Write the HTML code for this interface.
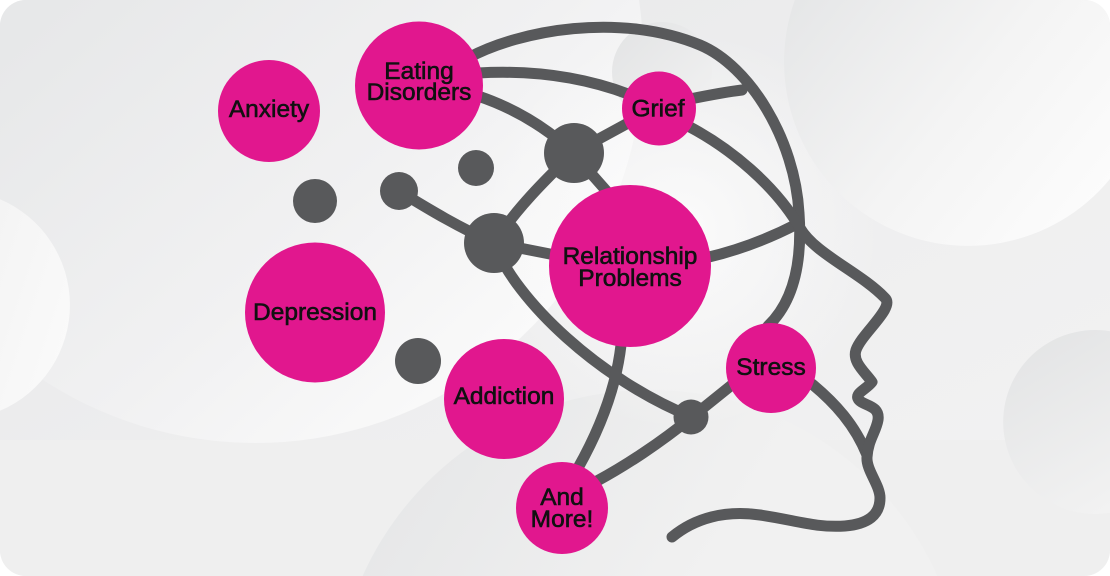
<!DOCTYPE html>
<html><head><meta charset="utf-8"><style>
html,body{margin:0;padding:0;background:#fff;width:1110px;height:576px;overflow:hidden;}
svg{display:block;}
text{font-family:"Liberation Sans",Arial,sans-serif;font-weight:normal;font-size:24.5px;fill:#111;stroke:#111;stroke-width:0.6px;text-anchor:middle;}
</style></head><body>
<svg width="1110" height="576" viewBox="0 0 1110 576" xmlns="http://www.w3.org/2000/svg">
<defs>
<clipPath id="frame"><rect x="0" y="0" width="1110" height="576" rx="26" ry="26"/></clipPath>
<linearGradient id="gBase" x1="0" y1="0" x2="1" y2="1">
<stop offset="0" stop-color="#e6e7e8"/><stop offset="0.5" stop-color="#eeeeef"/><stop offset="1" stop-color="#f3f3f3"/>
</linearGradient>
<linearGradient id="gBig" gradientUnits="userSpaceOnUse" x1="40" y1="20" x2="420" y2="440">
<stop offset="0" stop-color="#e7e8e9"/><stop offset="0.6" stop-color="#f1f1f2"/><stop offset="1" stop-color="#fafafa"/>
</linearGradient>
<linearGradient id="gTR" gradientUnits="userSpaceOnUse" x1="800" y1="0" x2="1100" y2="240">
<stop offset="0" stop-color="#e6e7e8"/><stop offset="0.5" stop-color="#f4f4f4"/><stop offset="1" stop-color="#fdfdfd"/>
</linearGradient>
<linearGradient id="gSmall" x1="0" y1="0" x2="1" y2="1">
<stop offset="0" stop-color="#e2e3e4"/><stop offset="1" stop-color="#f2f2f2"/>
</linearGradient>
<linearGradient id="gBR" gradientUnits="userSpaceOnUse" x1="1003" y1="330" x2="1110" y2="512">
<stop offset="0" stop-color="#e2e3e4"/><stop offset="1" stop-color="#f2f2f2"/>
</linearGradient>
<linearGradient id="gBot" gradientUnits="userSpaceOnUse" x1="400" y1="390" x2="700" y2="576">
<stop offset="0" stop-color="#e5e6e7"/><stop offset="1" stop-color="#f1f1f1"/>
</linearGradient>
<linearGradient id="gLeft" x1="0" y1="0" x2="1" y2="1">
<stop offset="0" stop-color="#f4f4f4"/><stop offset="1" stop-color="#fbfbfb"/>
</linearGradient>
<radialGradient id="gGlow" cx="0.5" cy="0.5" r="0.5">
<stop offset="0" stop-color="#fbfbfb"/><stop offset="1" stop-color="#fbfbfb" stop-opacity="0"/>
</radialGradient>
</defs>

<g clip-path="url(#frame)">
<rect x="0" y="0" width="1110" height="576" fill="url(#gBase)"/>
<rect x="0" y="440" width="1110" height="136" fill="#efefef"/>
<path d="M362.6 576 A315 315 0 0 1 937.4 576 Z" fill="url(#gBot)"/>
<path d="M0 0 L639.1 0 A388 388 0 0 1 0 347.4 Z" fill="url(#gBig)"/>
<circle cx="680" cy="230" r="200" fill="url(#gGlow)"/>
<path d="M0 199.2 A115 115 0 0 1 0 410.8 Z" fill="url(#gLeft)"/>
<circle cx="662" cy="72" r="50" fill="url(#gSmall)"/>
<path d="M794.8 0 L1110 0 L1110 179 A184 184 0 0 1 794.8 0 Z" fill="url(#gTR)"/>
<path d="M1110 331.2 A92 92 0 1 0 1110 512.8 Z" fill="url(#gBR)"/>
</g>

<g fill="none" stroke="#58595b" stroke-width="11" stroke-linecap="round" stroke-linejoin="round">
<path d="M468 58 C520 30,620 12,700 45 C750 66,795 140,799 213 C803 270,790 305,768 326"/>
<path d="M478 73 C530 70,580 76,628 94"/>
<path d="M690 99 C710 95,725 92,742 90"/>
<path d="M478 96 C505 105,535 120,565 145"/>
<path d="M573 153 L630 122"/>
<path d="M573 153 L610 195"/>
<path d="M573 153 C545 180,515 210,494 243"/>
<path d="M399 191 C430 210,460 228,494 243"/>
<path d="M494 243 L555 255"/>
<path d="M494 243 C515 300,600 380,692 417 L738 380"/>
<path d="M705 258 C740 250,770 238,797 224"/>
<path d="M621 345 C617 380,605 420,578 468"/>
<path d="M597 481 C625 466,660 443,692 417"/>
<path d="M812 384 C835 403,855 425,867 455"/>
<path d="M688 126 C730 148,775 185,800 228 C815 254,860 272,885 298 C895 308,862 333,856 350 C852 362,865 372,872 382 C866 390,852 394,860 401 C866 406,880 406,878 420 C876 432,868 440,867 457 C866 470,880 485,880 498 C880 515,868 524,845 526 C815 528,795 520,760 515 C725 510,695 518,672 537"/>
</g>

<g fill="#58595b">
<circle cx="315" cy="201" r="22"/>
<circle cx="399" cy="191" r="19"/>
<circle cx="476" cy="168" r="18"/>
<circle cx="574" cy="153" r="30"/>
<circle cx="494" cy="243" r="30"/>
<circle cx="418" cy="361" r="23"/>
<circle cx="691" cy="417" r="17.5"/>
</g>

<g fill="#e1178e">
<circle cx="269" cy="111" r="51"/>
<circle cx="419" cy="85.5" r="64"/>
<circle cx="659" cy="108.5" r="37"/>
<circle cx="630" cy="266" r="81"/>
<circle cx="315" cy="312.5" r="70"/>
<circle cx="504" cy="399" r="60"/>
<circle cx="562" cy="508" r="46"/>
<circle cx="771" cy="368" r="45"/>
</g>

<text x="269" y="117">Anxiety</text>
<text x="419" y="79">Eating</text>
<text x="419" y="100">Disorders</text>
<text x="658" y="116.5">Grief</text>
<text x="630" y="264">Relationship</text>
<text x="630" y="286">Problems</text>
<text x="315" y="320">Depression</text>
<text x="504" y="404">Addiction</text>
<text x="771" y="375">Stress</text>
<text x="562" y="505">And</text>
<text x="562" y="527">More!</text>
</svg>
</body></html>
